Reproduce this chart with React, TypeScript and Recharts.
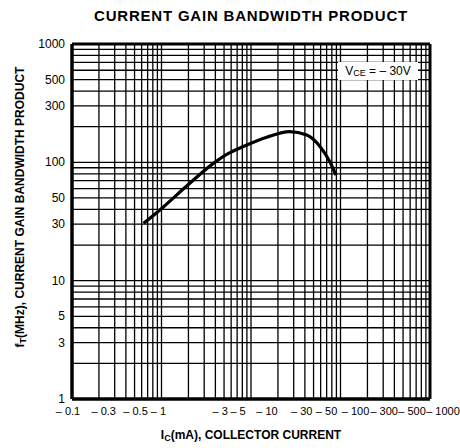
import { Line, LineChart, ReferenceLine, XAxis, YAxis } from "recharts"

const current = [0.63, 1.05, 1.91, 3.8, 5.6, 8.2, 15, 27, 42, 59, 76, 89]
const gain = [30.5, 42, 63, 98, 119, 136, 163, 182, 170, 136, 101, 78]

const xTicks = [0.1, 0.3, 0.5, 1, 3, 5, 10, 30, 50, 100, 300, 500, 1000]
const yTicks = [1, 3, 5, 10, 30, 50, 100, 300, 500, 1000]

const xDecades = [0.1, 1, 10, 100]
const yDecades = [1, 10, 100]
const steps = [2, 3, 4, 5, 6, 7, 8, 9, 10]

const data = current.map((ic, i) => ({ ic, ft: gain[i] }))

// log grid lines (every 1..9 of each decade)
const gridX = xDecades.flatMap((d) => steps.map((s) => +(d * s).toPrecision(3)))
const gridY = yDecades.flatMap((d) => steps.map((s) => +(d * s).toPrecision(3)))

const font = "'Liberation Sans', Arial, Helvetica, sans-serif"

// the printed labels sit a little off their grid lines
const labelShift: Record<number, number> = {
  0.1: -4, 0.3: -11, 0.5: 1, 1: -3, 3: 16, 5: 14, 10: 16,
  30: 8, 50: 13, 100: 15, 300: 1, 500: 9, 1000: 13,
}

const XTick = ({ x, y, payload }: any) => (
  <text
    x={x + (labelShift[payload.value] ?? 0)}
    y={y + 16}
    textAnchor="middle"
    fontSize={11}
    fontFamily={font}
    fill="#000"
  >
    {"– " + payload.value}
  </text>
)

const YTick = ({ x, y, payload }: any) => (
  <text x={x - 7} y={y + 4} textAnchor="end" fontSize={12} fontFamily={font} fill="#000">
    {payload.value}
  </text>
)

export default function App() {
  return (
    <div style={{ position: "absolute", left: 0, top: 0, width: 460, height: 448, background: "#fff", fontFamily: font }}>
      <div
        style={{
          position: "absolute",
          top: 7,
          left: 0,
          width: 502,
          textAlign: "center",
          fontSize: 15,
          fontWeight: "bold",
          letterSpacing: 0.8,
        }}
      >
        CURRENT GAIN BANDWIDTH PRODUCT
      </div>
      <LineChart width={460} height={448} data={data} margin={{ top: 44, right: 30, bottom: 0, left: 0 }}>
        <XAxis
          dataKey="ic"
          type="number"
          scale="log"
          domain={[0.1, 1000]}
          ticks={xTicks}
          interval={0}
          height={49}
          tickSize={0}
          tickMargin={0}
          tickLine={false}
          axisLine={false}
          tick={<XTick />}
          allowDataOverflow
        />
        <YAxis
          type="number"
          scale="log"
          domain={[1, 1000]}
          ticks={yTicks}
          interval={0}
          width={72}
          tickSize={0}
          tickMargin={0}
          tickLine={false}
          axisLine={false}
          tick={<YTick />}
          allowDataOverflow
        />
        {gridX.map((v) => (
          <ReferenceLine key={"x" + v} x={v} stroke="#000" strokeWidth={1.3} />
        ))}
        {gridY.map((v) => (
          <ReferenceLine key={"y" + v} y={v} stroke="#000" strokeWidth={1.3} />
        ))}
        <ReferenceLine x={0.1} stroke="#000" strokeWidth={3.5} />
        <ReferenceLine x={1000} stroke="#000" strokeWidth={3} />
        <ReferenceLine y={1} stroke="#000" strokeWidth={3.5} />
        <ReferenceLine y={1000} stroke="#000" strokeWidth={3} />
        <Line
          type="monotone"
          dataKey="ft"
          stroke="#000"
          strokeWidth={3.2}
          dot={false}
          isAnimationActive={false}
        />
      </LineChart>
      <div
        style={{
          position: "absolute",
          left: 338,
          top: 62,
          width: 80,
          height: 18,
          background: "#fff",
          fontSize: 12,
          lineHeight: "18px",
          textAlign: "center",
          whiteSpace: "nowrap",
        }}
      >
        V<sub style={{ fontSize: 9, verticalAlign: "-1px" }}>CE</sub> = – 30V
      </div>
      <div
        style={{
          position: "absolute",
          left: 72,
          top: 428,
          width: 358,
          textAlign: "center",
          fontSize: 12,
          fontWeight: "bold",
          whiteSpace: "nowrap",
        }}
      >
        I<sub style={{ fontSize: 9, verticalAlign: "-2px" }}>C</sub>(mA), COLLECTOR CURRENT
      </div>
      <div
        style={{
          position: "absolute",
          left: 20 - 150,
          top: 207 - 8,
          width: 300,
          height: 16,
          lineHeight: "16px",
          textAlign: "center",
          fontSize: 12,
          fontWeight: "bold",
          whiteSpace: "nowrap",
          transform: "rotate(-90deg)",
        }}
      >
        f<sub style={{ fontSize: 9, verticalAlign: "-2px" }}>T</sub>(MHz), CURRENT GAIN BANDWIDTH PRODUCT
      </div>
    </div>
  )
}
